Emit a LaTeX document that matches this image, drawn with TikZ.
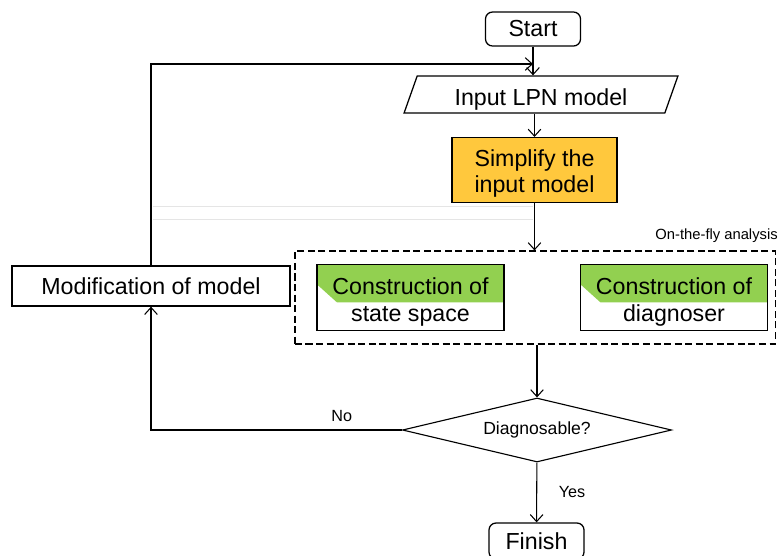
\documentclass[tikz,border=0pt]{standalone}
\usepackage{fontspec}
\setmainfont{Liberation Sans}
\usetikzlibrary{positioning, shapes.geometric, arrows.meta, calc}
\definecolor{xgold}{HTML}{FFC83D}
\definecolor{xgreen}{HTML}{92D050}
\newcommand\flowfont{\fontsize{16.5}{19}\selectfont}
\newcommand\tagfont{\fontsize{11.5}{13}\selectfont}
\newcommand\lowstrut[1]{\rule{0pt}{#1}}
\tikzset{
	flow/.style = {line width=0.75pt, -{Straight Barb[length=5pt, width=9pt]}},
	term/.style = {draw, line width=0.9pt, rounded corners=5pt, minimum width=2.375cm, minimum height=0.85cm, font=\flowfont},
	proc/.style = {draw, line width=0.9pt, align=center, font=\flowfont},
	conbox/.style = {proc, minimum width=4.675cm, minimum height=1.525cm,
		path picture={\fill[xgreen] (path picture bounding box.north west) -- (path picture bounding box.north east)
			-- ($(path picture bounding box.north east)+(0,38)$) -- ($(path picture bounding box.north west)+(20,38)$)
			-- ($(path picture bounding box.north west)+(0,20)$) -- cycle;}},
}

\begin{document}
\begin{tikzpicture}[x=0.025cm, y=-0.025cm]
			\useasboundingbox (0,0) rectangle (782,555);
			\node[term] (start) at (533,29) {Start};
			\node[proc, trapezium, trapezium left angle=73, trapezium right angle=107, trapezium stretches=true,
				minimum width=6.85cm, minimum height=0.925cm, inner ysep=0pt, text height=19pt] (input) at (541,94.5) {Input LPN model};
			\node[proc, fill=xgold, minimum width=4.125cm, minimum height=1.5cm] (simp) at (534.5,170) {\lowstrut{17pt}Simplify the\\input model};
			\node[draw, dash pattern=on 5pt off 2.5pt, line width=0.8pt, minimum width=12cm, minimum height=2.325cm] (otf) at (535,297.5) {};
			\node[anchor=south east, inner sep=0pt, font=\fontsize{10.5}{12}\selectfont] (otflabel) at (778,243) {On-the-fly analysis};
			\node[conbox] (space) at (410.5,297.5) {\lowstrut{18pt}Construction of\\state space};
			\node[conbox] (diagr) at (674,297.5) {\lowstrut{18pt}Construction of\\diagnoser};
			\node[proc, minimum width=6.95cm, minimum height=1cm] (mod) at (151,286) {Modification of model};
			\node[draw, diamond, line width=0.8pt, minimum width=6.725cm, minimum height=1.6cm, aspect=4.2,
				inner sep=0pt, font=\fontsize{12.5}{14}\selectfont] (diag) at (537,430) {Diagnosable?};
			\node[term, minimum height=0.9cm] (finish) at (536.5,541) {Finish};
			\coordinate (merge) at (533,64);
			\draw[gray!20, line width=0.6pt] (153,206) -- (533,206) (153,219) -- (533,219);
			\draw[flow] (start) -- (start |- input.north);
			\draw[flow] (mod) |- (merge);
			\draw[flow] (input.south -| simp) -- (simp);
			\draw[flow] (simp) -- (simp |- otf.north);
			\draw[flow] (otf.south -| diag.north) -- (diag);
			\draw[flow] (diag) -- (finish) node[midway, right=12pt, font=\tagfont] {Yes};
			\draw[flow] (diag.west) -| (mod) node[pos=0.12, above=2pt, font=\tagfont] {No};
		\end{tikzpicture}
\end{document}
